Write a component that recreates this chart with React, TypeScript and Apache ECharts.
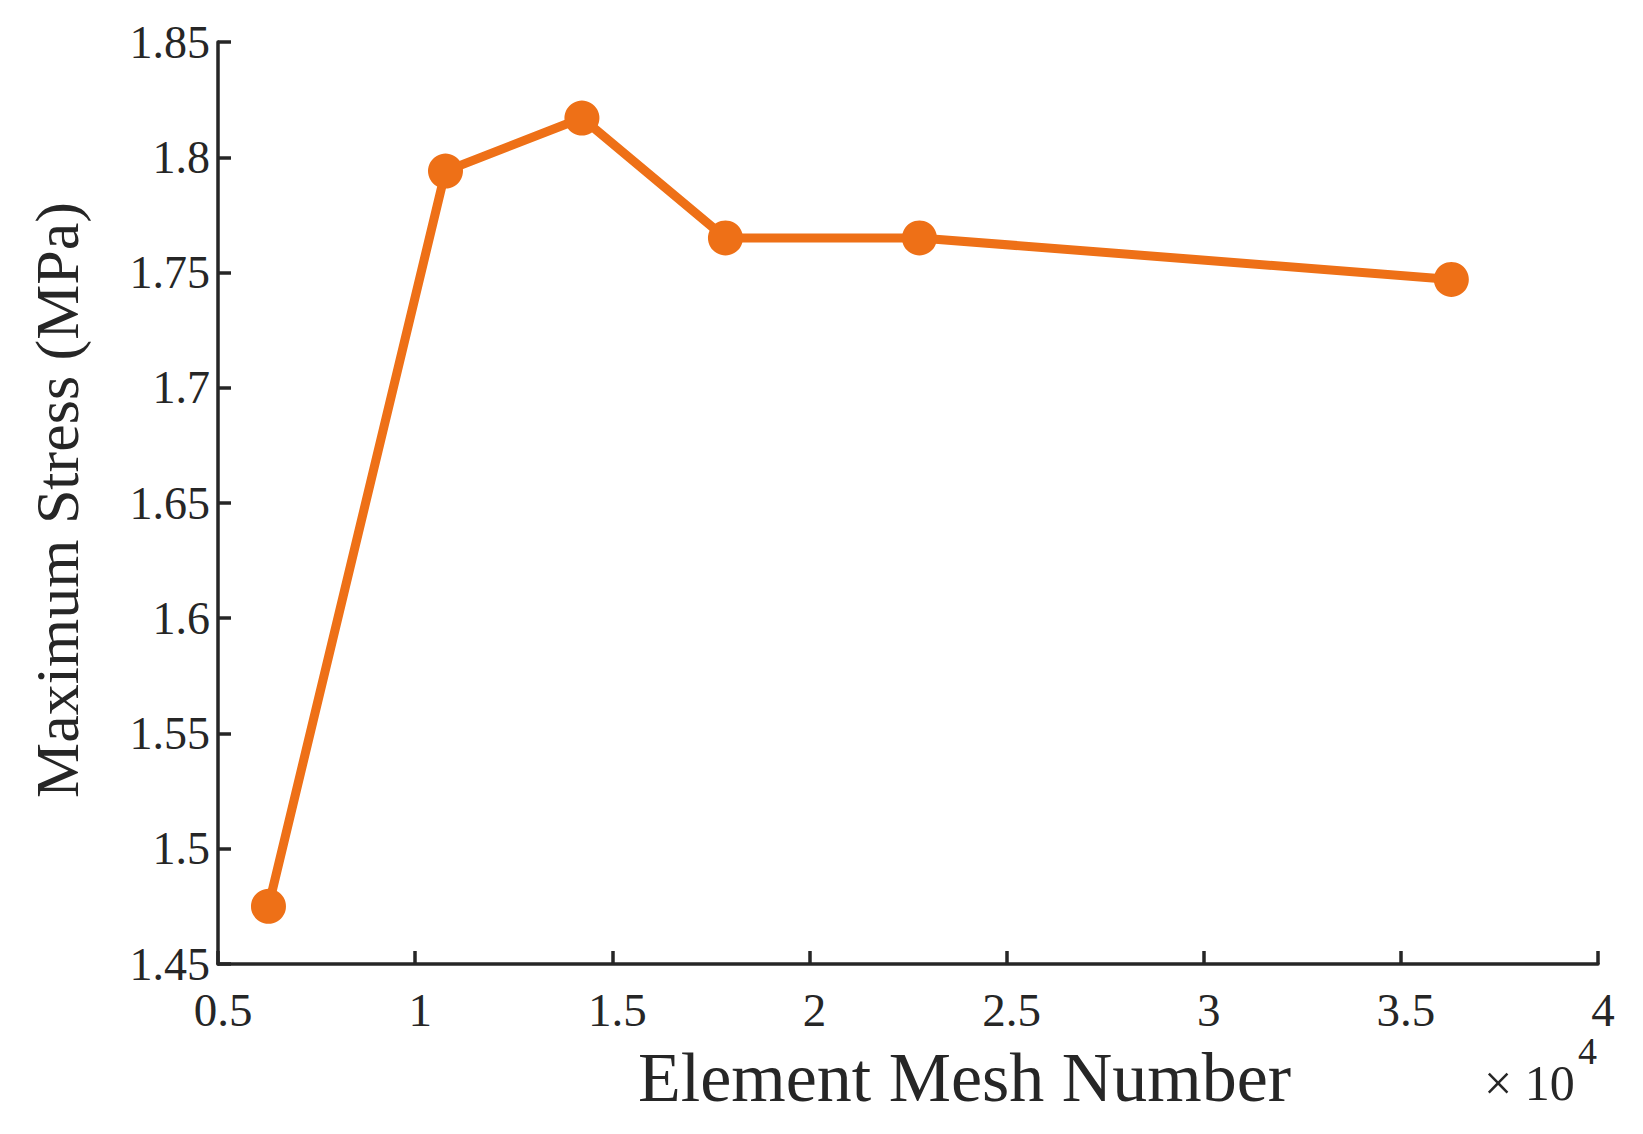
import React, { useEffect, useRef } from "react";
import * as echarts from "echarts";

const meshNumbers = [6280, 10770, 14230, 17870, 22790, 36280];
const maxStress = [1.475, 1.794, 1.817, 1.765, 1.765, 1.747];
const xTicks = [5000, 40000, 5000]; // min, max, interval
const yTicks = [1.45, 1.85, 0.05];

const FONT = "'Liberation Serif', 'Times New Roman', serif";
const INK = "#262626";
const ORANGE = "#EE7017";

export default function App() {
  const ref = useRef<HTMLDivElement>(null);
  useEffect(() => {
    if (!ref.current) return;
    const chart = echarts.init(ref.current, undefined, { renderer: "svg" });
    chart.setOption({
      animation: false,
      backgroundColor: "#ffffff",
      grid: { left: 218, top: 42, right: 45, bottom: 170, containLabel: false },
      xAxis: {
        type: "value",
        min: xTicks[0],
        max: xTicks[1],
        interval: xTicks[2],
        axisLine: { show: true, lineStyle: { color: INK, width: 3.5 } },
        axisTick: { show: true, inside: true, length: 13, lineStyle: { color: INK, width: 3.5 } },
        splitLine: { show: false },
        axisLabel: {
          color: INK,
          fontFamily: FONT,
          fontSize: 47,
          margin: 22,
          padding: [0, 0, 0, 10],
          formatter: (v: number) => String(+(v / 1e4).toFixed(2)),
        },
      },
      yAxis: {
        type: "value",
        min: yTicks[0],
        max: yTicks[1],
        interval: yTicks[2],
        axisLine: { show: true, lineStyle: { color: INK, width: 3.5 } },
        axisTick: { show: true, inside: true, length: 13, lineStyle: { color: INK, width: 3.5 } },
        splitLine: { show: false },
        axisLabel: {
          color: INK,
          fontFamily: FONT,
          fontSize: 46,
          margin: 8,
          padding: [14, 0, 0, 0],
          formatter: (v: number) => String(+v.toFixed(2)),
        },
      },
      graphic: [
        {
          type: "text",
          left: 638,
          top: 1042,
          style: { text: "Element Mesh Number", font: `70px ${FONT}`, fill: INK },
        },
        {
          type: "text",
          x: 57,
          y: 500,
          rotation: Math.PI / 2,
          style: {
            text: "Maximum Stress (MPa)",
            font: `62px ${FONT}`,
            fill: INK,
            align: "center",
            verticalAlign: "middle",
          },
        },
        {
          type: "text",
          left: 1484,
          top: 1058,
          style: { text: "× 10", font: `50px ${FONT}`, fill: INK },
        },
        {
          type: "text",
          left: 1578,
          top: 1032,
          style: { text: "4", font: `38px ${FONT}`, fill: INK },
        },
      ],
      series: [
        {
          type: "line",
          data: meshNumbers.map((x, i) => [x, maxStress[i]]),
          symbol: "circle",
          symbolSize: 35,
          lineStyle: { color: ORANGE, width: 9 },
          itemStyle: { color: ORANGE },
        },
      ],
    });
    return () => chart.dispose();
  }, []);
  return (
    <div
      ref={ref}
      style={{ position: "fixed", left: 0, top: 0, width: 1643, height: 1134, background: "#fff" }}
    />
  );
}
